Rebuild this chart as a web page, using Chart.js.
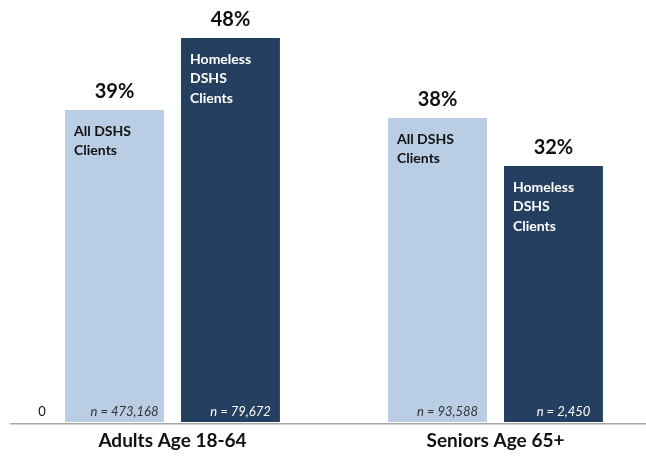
<!DOCTYPE html>
<html>
<head>
<meta charset="utf-8">
<script src="https://cdn.jsdelivr.net/npm/chart.js@4.4.1/dist/chart.umd.min.js"></script>
<style>
  html, body { margin: 0; padding: 0; background: #fff; }
  #wrap { width: 646px; height: 459px; }
</style>
</head>
<body>
<div id="wrap"><canvas id="dshsChart"></canvas></div>
<script>
const categories = ['Adults Age 18-64', 'Seniors Age 65+'];
const allClients = [39, 38];
const homelessClients = [48, 32];
const allLabel = ['All DSHS', 'Clients'];
const homelessLabel = ['Homeless', 'DSHS', 'Clients'];
const allCounts = ['n = 473,168', 'n = 93,588'];
const homelessCounts = ['n = 79,672', 'n = 2,450'];

const FONT = 'Lato, "Open Sans", sans-serif';

const barLabels = {
    id: 'barLabels',
    afterDatasetsDraw(chart) {
        const ctx = chart.ctx;
        const y = chart.scales.y;
        ctx.save();
        chart.data.datasets.forEach((ds, di) => {
            const meta = chart.getDatasetMeta(di);
            meta.data.forEach((bar, i) => {
                const left = bar.x - bar.width / 2;
                // value above bar
                ctx.fillStyle = '#111';
                ctx.font = 'bold 20px ' + FONT;
                ctx.textAlign = 'center';
                ctx.textBaseline = 'alphabetic';
                ctx.fillText(ds.data[i].y + '%', bar.x, bar.y - 12);
                // series name inside bar
                ctx.fillStyle = ds.textColor;
                ctx.font = 'bold 14px ' + FONT;
                ctx.textAlign = 'left';
                ctx.textBaseline = 'top';
                ds.nameLines.forEach((line, k) => {
                    ctx.fillText(line, left + 9, bar.y + 14 + k * 19.5);
                });
                // n = count at the bottom
                ctx.font = 'italic 13px ' + FONT;
                ctx.textAlign = 'center';
                ctx.textBaseline = 'middle';
                ctx.fillStyle = ds.countColor;
                ctx.fillText(ds.counts[i], bar.x + 10, y.getPixelForValue(0) - 10);
            });
        });
        // zero tick label
        ctx.fillStyle = '#111';
        ctx.font = '13px ' + FONT;
        ctx.textAlign = 'center';
        ctx.textBaseline = 'middle';
        ctx.fillText('0', chart.chartArea.left + 31, y.getPixelForValue(0) - 10);
        ctx.restore();
    }
};

const ctx = document.getElementById('dshsChart').getContext('2d');
new Chart(ctx, {
    type: 'bar',
    data: {
        datasets: [{
            label: 'All DSHS Clients',
            data: allClients.map((v, i) => ({ x: i, y: v })),
            backgroundColor: '#b9cde5',
            nameLines: allLabel,
            counts: allCounts,
            textColor: '#111',
            countColor: '#333'
        }, {
            label: 'Homeless DSHS Clients',
            data: homelessClients.map((v, i) => ({ x: i, y: v })),
            backgroundColor: '#253f60',
            nameLines: homelessLabel,
            counts: homelessCounts,
            textColor: '#fff',
            countColor: '#fff'
        }]
    },
    options: {
        responsive: true,
        maintainAspectRatio: false,
        animation: false,
        categoryPercentage: 0.718,
        barPercentage: 0.853,
        layout: {
            padding: { left: 11, right: 0, top: 22, bottom: 0 }
        },
        scales: {
            x: {
                type: 'linear',
                offset: false,
                bounds: 'data',
                min: -0.5,
                max: 1.466,
                afterBuildTicks: (scale) => {
                    scale.ticks = categories.map((c, i) => ({ value: i }));
                },
                afterFit: (scale) => {
                    scale.height = 35;
                },
                grid: { display: false, offset: false },
                border: { display: true, color: '#a6a6a6', width: 1.5 },
                ticks: {
                    autoSkip: false,
                    maxRotation: 0,
                    padding: -3,
                    color: '#111',
                    font: { family: FONT, size: 19, weight: 'bold' },
                    callback: (v) => categories[v]
                }
            },
            y: {
                display: false,
                min: -0.25,
                max: 50
            }
        },
        plugins: {
            legend: { display: false },
            tooltip: { enabled: false }
        }
    },
    plugins: [barLabels]
});
</script>
</body>
</html>
